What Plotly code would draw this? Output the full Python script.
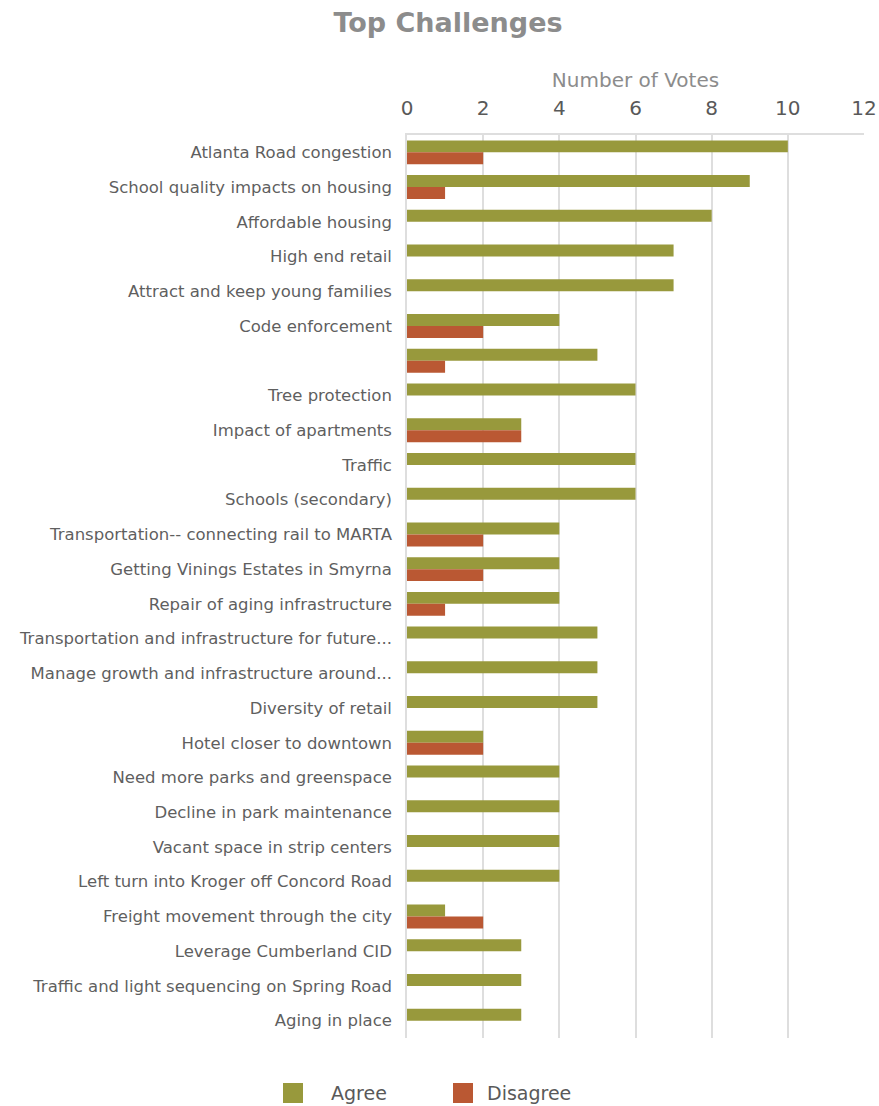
import plotly.graph_objects as go

categories = [
    "Atlanta Road congestion",
    "School quality impacts on housing",
    "Affordable housing",
    "High end retail",
    "Attract and keep young families",
    "Code enforcement",
    " ",
    "Tree protection",
    "Impact of apartments",
    "Traffic",
    "Schools (secondary)",
    "Transportation-- connecting rail to MARTA",
    "Getting Vinings Estates in Smyrna",
    "Repair of aging infrastructure",
    "Transportation and infrastructure for future...",
    "Manage growth and infrastructure around...",
    "Diversity of retail",
    "Hotel closer to downtown",
    "Need more parks and greenspace",
    "Decline in park maintenance",
    "Vacant space in strip centers",
    "Left turn into Kroger off Concord Road",
    "Freight movement through the city",
    "Leverage Cumberland CID",
    "Traffic and light sequencing on Spring Road",
    "Aging in place",
]
agree = [10, 9, 8, 7, 7, 4, 5, 6, 3, 6, 6, 4, 4, 4, 5, 5, 5, 2, 4, 4, 4, 4, 1, 3, 3, 3]
disagree = [2, 1, 0, 0, 0, 2, 1, 0, 3, 0, 0, 2, 2, 1, 0, 0, 0, 2, 0, 0, 0, 0, 2, 0, 0, 0]
x_ticks = [0, 2, 4, 6, 8, 10, 12]
series_names = ["Agree", "Disagree"]

GREEN = "#98993C"
RUST = "#BA5833"
FONT = "DejaVu Sans"
W, H = 879, 1106
L, R, T, B = 407, 15, 135, 68
PW, PH = W - L - R, H - T - B

fig = go.Figure()
fig.add_trace(go.Bar(y=categories, x=agree, name=series_names[0], orientation="h",
                     marker=dict(color=GREEN, line=dict(width=0)), showlegend=False))
fig.add_trace(go.Bar(y=categories, x=disagree, name=series_names[1], orientation="h",
                     marker=dict(color=RUST, line=dict(width=0)), showlegend=False))


def px_x(px):
    return (px - L) / PW


def px_y(py):
    return (H - B - py) / PH


# legend drawn below the plot: colour swatch + label for each series
shapes = []
annotations = []
for name, color, sx, tx in [(series_names[0], GREEN, 283, 329),
                            (series_names[1], RUST, 453, 485)]:
    shapes.append(dict(type="rect", xref="paper", yref="paper",
                       x0=px_x(sx), x1=px_x(sx + 20), y0=px_y(1103), y1=px_y(1083),
                       fillcolor=color, line=dict(width=0)))
    annotations.append(dict(text=name, xref="paper", yref="paper",
                            x=px_x(tx), y=px_y(1093), xanchor="left", yanchor="middle",
                            showarrow=False, font=dict(family=FONT, size=19, color="#595959")))

fig.update_layout(
    width=W, height=H,
    margin=dict(l=L, r=R, t=T, b=B),
    paper_bgcolor="white", plot_bgcolor="white",
    barmode="group", bargap=0.31, bargroupgap=0,
    font=dict(family=FONT, color="#595959"),
    title=dict(text="<b>Top Challenges</b>", x=448 / W, xref="container",
               xanchor="center", y=1 - 23 / H, yref="container", yanchor="middle",
               font=dict(family=FONT, size=27, color="#8C8C8C")),
    xaxis=dict(side="top", range=[0, 12], tickvals=x_ticks, showgrid=True,
               gridcolor="#DEDEDE", gridwidth=1.5, zeroline=False,
               showline=True, linecolor="#DEDEDE", linewidth=1.5,
               tickfont=dict(size=20, color="#595959"), ticks="",
               ticklabelstandoff=10, automargin=False,
               title=dict(text="Number of Votes", font=dict(size=20, color="#8C8C8C"),
                          standoff=3)),
    yaxis=dict(autorange="reversed", tickfont=dict(size=16.5, color="#5F5F5F"),
               ticks="", showgrid=False, zeroline=False, ticklabelstandoff=10,
               automargin=False,
               showline=True, linecolor="#DEDEDE", linewidth=1.5),
    shapes=shapes,
    annotations=annotations,
)

fig.write_html("out.html")
